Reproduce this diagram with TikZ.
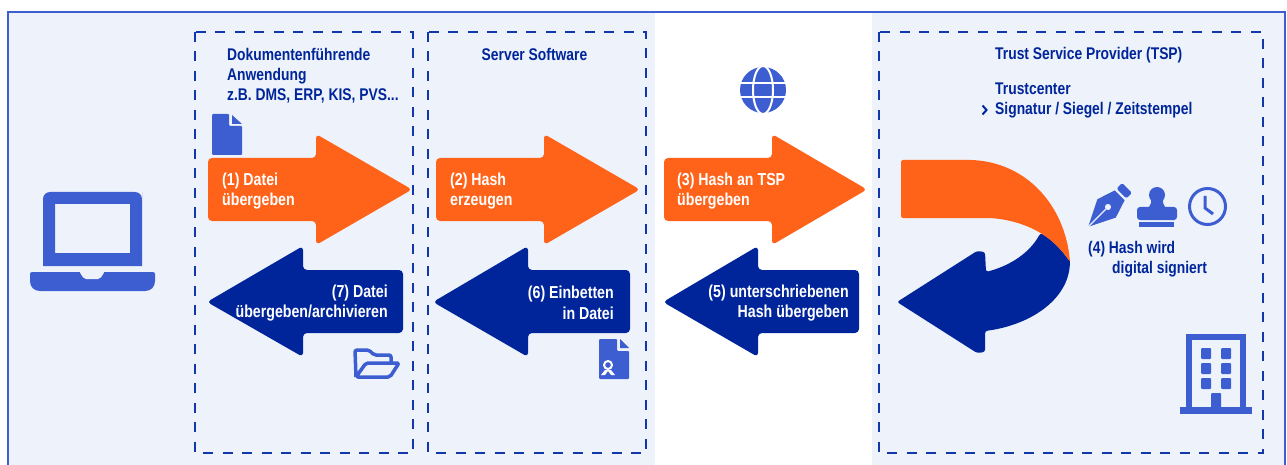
\documentclass[tikz,border=0pt]{standalone}
\usepackage{fontspec}
\setmainfont{Liberation Sans}[FakeStretch=0.82]
\usepackage{tikz}
\usetikzlibrary{positioning}

\definecolor{paleblue}{HTML}{EEF3FB}
\definecolor{iconblue}{HTML}{3D5ED1}
\definecolor{navy}{HTML}{00259B}
\definecolor{signalorange}{HTML}{FF6319}

\tikzset{
    frame/.style={draw=iconblue, line width=1.3pt},
    zone/.style={draw=navy!70!iconblue, line width=1.25pt, dash pattern=on 10pt off 9.5pt},
    orangearrow/.style={fill=signalorange, rounded corners=4pt},
    navyarrow/.style={fill=navy, rounded corners=4pt},
    icon/.style={fill=iconblue},
    heading/.style={text=navy, font=\bfseries\fontsize{16.9}{20}\selectfont, align=left, inner sep=0pt},
    arrowtext/.style={text=white, font=\bfseries\fontsize{17.3}{20.5}\selectfont, inner sep=0pt}
}

\begin{document}
\begin{tikzpicture}[x=1pt, y=-1pt]
    \useasboundingbox (0,0) rectangle (1287,465);

    % background
    \fill [paleblue] (8,12) rectangle (1285,465);
    \fill [white] (655,12) rectangle (872,465);
    \draw [frame] (8,465) -- (8,12) -- (1285,12) -- (1285,465);

    \draw [zone] (195,32) rectangle (413,453);
    \draw [zone] (428,32) rectangle (646,453);
    \draw [zone] (879,32) rectangle (1263,453);

    % headings
    \node [heading, anchor=north west] (dms) at (227,48) {Dokumentenführende\\Anwendung\\z.B. DMS, ERP, KIS, PVS...};
    \node [heading] (server) at (534.5,54) {Server Software};
    \node [heading, anchor=west] (tsp) at (995,55) {Trust Service Provider (TSP)};
    \node [heading, anchor=north west] (center) at (995,83) {Trustcenter\\Signatur / Siegel / Zeitstempel};
    \draw [navy, line width=2pt] (982.5,105.5) -- (986.5,110) -- (982.5,114.5);

    % arrows to the right
    \fill [orangearrow] (208,158) -- (316,158) -- (316,134) -- (412,189.5) -- (316,245) -- (316,221) -- (208,221) -- cycle;
    \fill [orangearrow] (436,158) -- (544,158) -- (544,134) -- (640,189.5) -- (544,245) -- (544,221) -- (436,221) -- cycle;
    \fill [orangearrow] (664,158) -- (772,158) -- (772,134) -- (867,189.5) -- (772,245) -- (772,221) -- (664,221) -- cycle;

    % arrows to the left
    \fill [navyarrow] (403,270) -- (303,270) -- (303,246) -- (207,302) -- (303,357) -- (303,333) -- (403,333) -- cycle;
    \fill [navyarrow] (630,270) -- (528,270) -- (528,246) -- (433,302) -- (528,357) -- (528,333) -- (630,333) -- cycle;
    \fill [navyarrow] (859,270) -- (758,270) -- (758,246) -- (663,302) -- (758,357) -- (758,333) -- (859,333) -- cycle;

    \node [arrowtext, anchor=west, align=left] (step1) at (222,191) {(1) Datei\\übergeben};
    \node [arrowtext, anchor=west, align=left] (step2) at (450,191) {(2) Hash\\erzeugen};
    \node [arrowtext, anchor=west, align=left] (step3) at (677,191) {(3) Hash an TSP\\übergeben};
    \node [arrowtext, anchor=east, align=right] (step7) at (388,303) {(7) Datei\\übergeben/archivieren};
    \node [arrowtext, anchor=east, align=right] (step6) at (614,303) {(6) Einbetten\\in Datei};
    \node [arrowtext, anchor=east, align=right] (step5) at (849,303) {(5) unterschriebenen\\Hash übergeben};

    % bent arrow
    \fill [navy, rounded corners=2.5pt] (1070,262) .. controls (1068,300) and (1030,325) .. (985,331)
        -- (985,352) -- (977,353) -- (897,302) -- (977,251) -- (985,252) -- (986,272)
        .. controls (1012,265) and (1030,252) .. (1040.5,233) .. controls (1052,240) and (1062,250) .. cycle;
    \fill [signalorange, rounded corners=2pt] (901,160) -- (961,160)
        .. controls (1025,158) and (1065,205) .. (1070,262)
        .. controls (1062,250) and (1052,240) .. (1040.5,233)
        .. controls (1025,224) and (1005,218) .. (984,218) -- (901,218) -- cycle;

    \node [heading, anchor=north west] (step4) at (1088,241) {(4) Hash wird\\\hspace*{24pt}digital signiert};

    % laptop
    \fill [icon, even odd rule] (43,266) -- (43,199) [rounded corners=7pt] -- (43,192) -- (142,192) -- (142,199) [sharp corners] -- (142,266) -- cycle
        (55,204) rectangle (130,253);
    \fill [icon] (30,274) .. controls (30,272.5) and (31,272) .. (33,272) -- (152,272) .. controls (154,272) and (155,272.5) .. (155,274)
        -- (155,281) .. controls (155,287) and (151,291) .. (145,291) -- (40,291)
        .. controls (34,291) and (30,287) .. (30,281) -- cycle;
    \fill [paleblue, rounded corners=2pt] (79,271) -- (84,279) -- (100,279) -- (105,271) -- cycle;

    % document
    \fill [icon, rounded corners=1pt] (212,114) -- (229,114) -- (229,126) -- (242,126) -- (242,155) -- (212,155) -- cycle;
    \fill [icon] (232,115) -- (242,124) -- (232,124) -- cycle;

    % folder
    \draw [iconblue, line width=3.5pt, line join=round, rounded corners=2pt] (356,377) -- (355,350) -- (369,350) -- (374,355) -- (391,355) -- (391,363);
    \draw [iconblue, line width=3.5pt, line join=round, rounded corners=2pt] (356,377) -- (366,363) -- (399,363) -- (390,377) -- cycle;

    % certificate
    \fill [icon, rounded corners=1pt] (599,339) -- (617,339) -- (617,351) -- (629,351) -- (629,379) -- (599,379) -- cycle;
    \fill [icon] (620,339) -- (629,348) -- (620,348) -- cycle;
    \draw [white, line width=2pt] (608,365) circle (4pt);
    \fill [white] (605,370) -- (601,375) -- (605,375) -- (608,371) -- (611,375) -- (615,375) -- (611,370) -- cycle;

    % globe
    \fill [icon] (763,90) circle (23pt);
    \draw [white, line width=2pt] (763,90) ellipse (10pt and 24pt);
    \draw [white, line width=2pt] (739,83) -- (787,83) (739,97) -- (787,97);

    % pen
    \begin{scope}[shift={(1108,207)}, rotate=-45]
        \fill [icon, rounded corners=1.5pt] (-7,-27) rectangle (7,-19);
        \fill [icon, even odd rule] (-7,-16.5) -- (7,-16.5) -- (13,2) -- (0,28) -- (-13,2) -- cycle (0,0) circle (3.2pt);
        \draw [paleblue, line width=1.2pt] (0,3) -- (0,28);
    \end{scope}

    % stamp
    \fill [icon] (1157,195) circle (8pt);
    \fill [icon] (1151,198) -- (1163,198) -- (1163,203) -- (1165,207) -- (1149,207) -- (1151,203) -- cycle;
    \fill [icon, rounded corners=3pt] (1137,220) -- (1137,207) -- (1177,207) -- (1177,220) -- cycle;
    \fill [icon] (1139,222) rectangle (1174,227);

    % clock
    \draw [iconblue, line width=3pt] (1207.5,206.5) circle (18pt);
    \draw [iconblue, line width=3pt] (1205,196) -- (1205,208) -- (1213,214);

    % building
    \draw [iconblue, line width=6.5pt] (1189,411) -- (1189,337) -- (1243,337) -- (1243,411);
    \fill [icon] (1180,407) rectangle (1252,414);
    \fill [icon, rounded corners=1pt] (1201,348) rectangle (1211,359);
    \fill [icon, rounded corners=1pt] (1221,348) rectangle (1231,359);
    \fill [icon, rounded corners=1pt] (1201,363) rectangle (1211,374);
    \fill [icon, rounded corners=1pt] (1221,363) rectangle (1231,374);
    \fill [icon, rounded corners=1pt] (1201,378) rectangle (1211,389);
    \fill [icon, rounded corners=1pt] (1221,378) rectangle (1231,389);
    \fill [icon, rounded corners=1pt] (1211,393) rectangle (1221,408);
\end{tikzpicture}
\end{document}
